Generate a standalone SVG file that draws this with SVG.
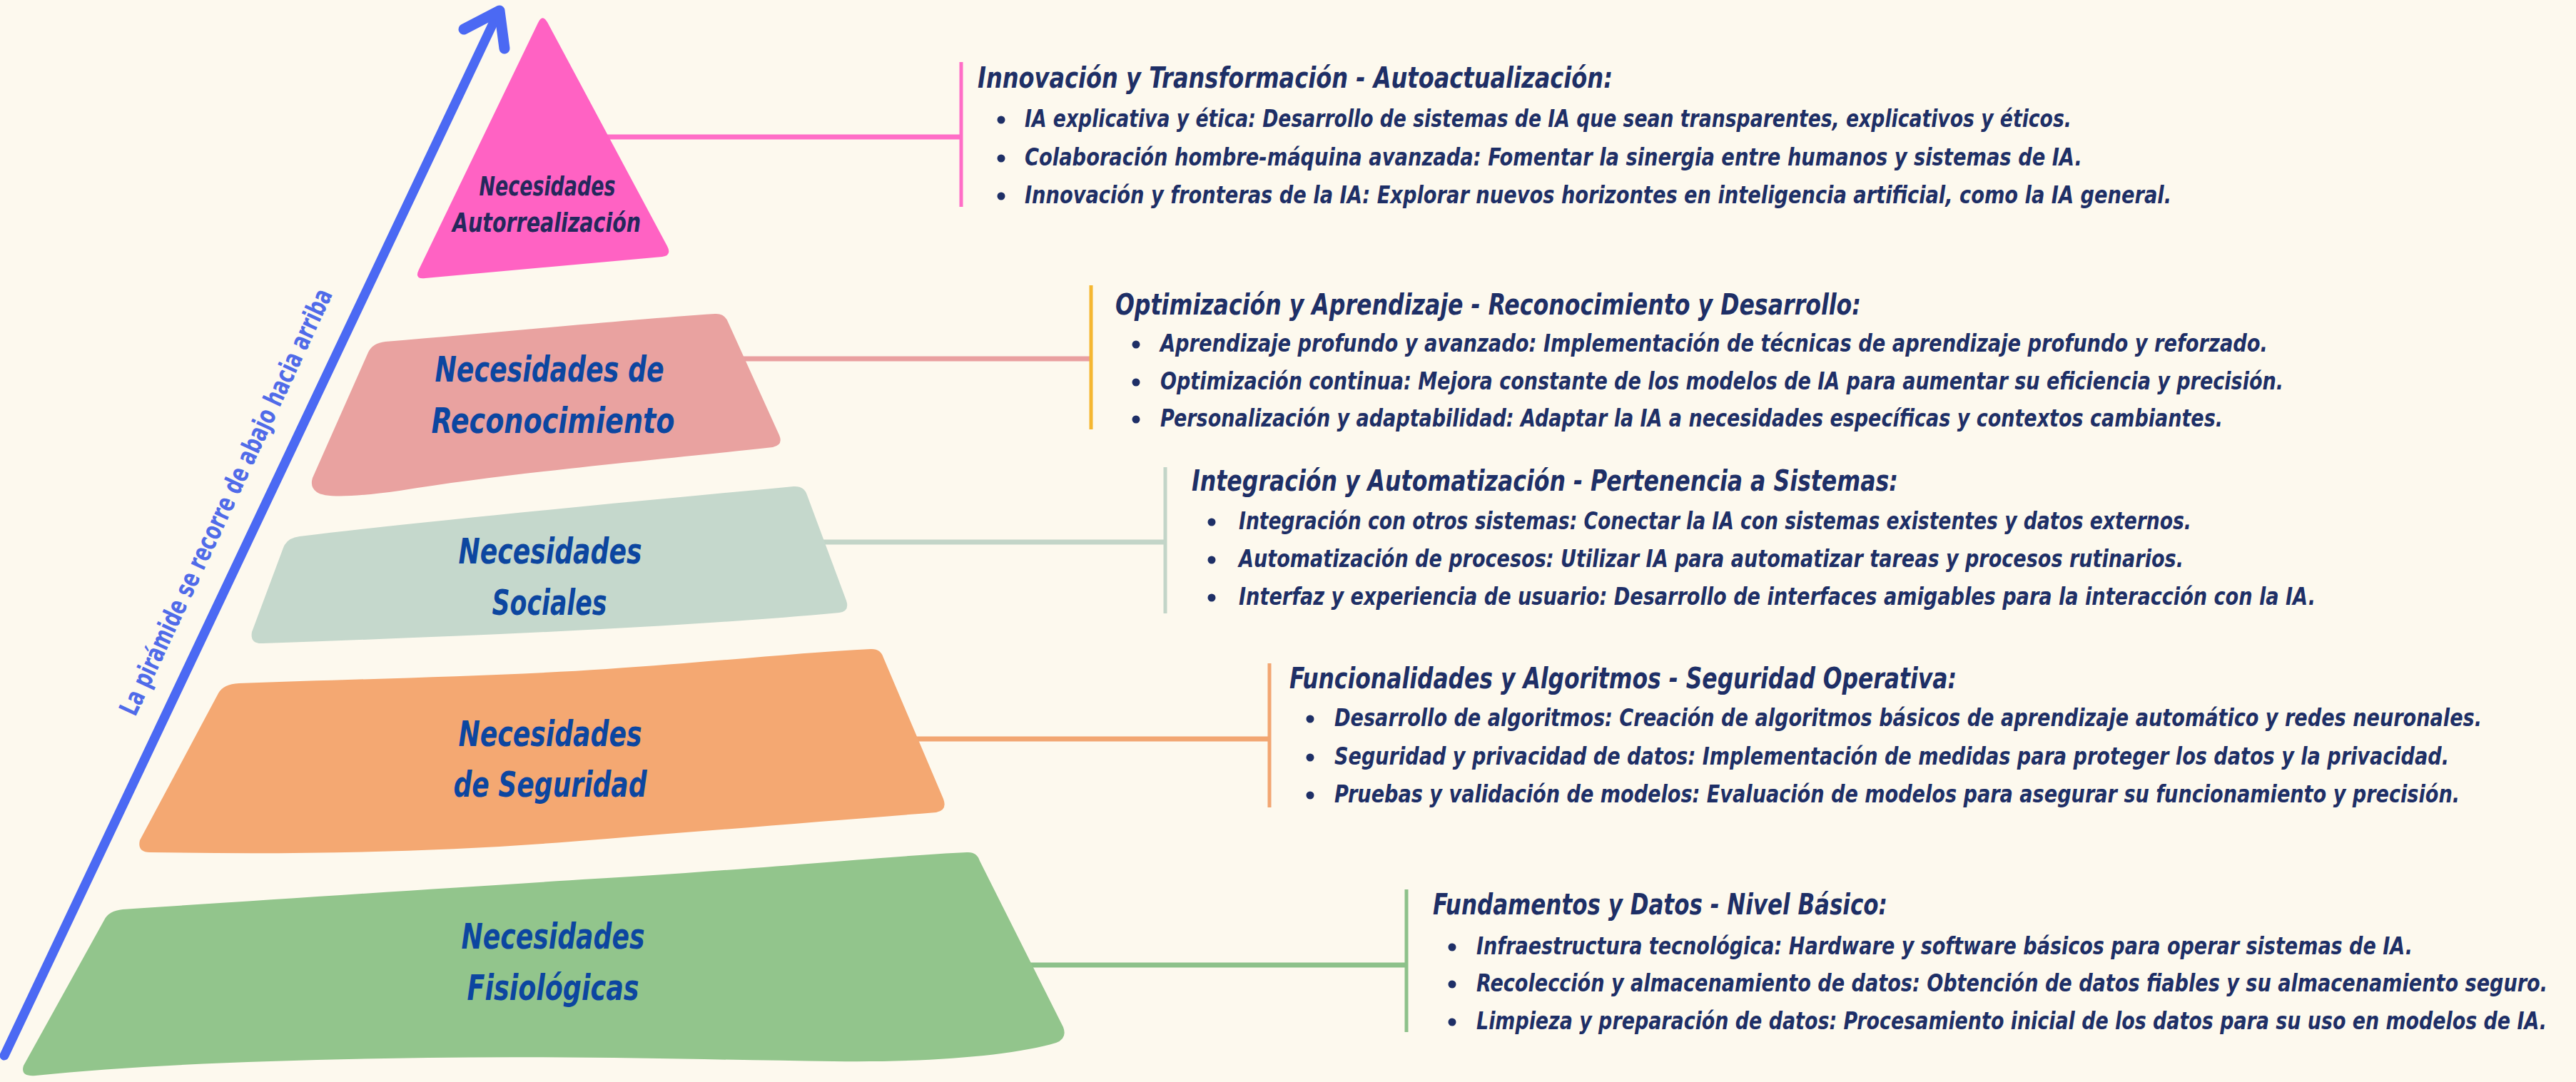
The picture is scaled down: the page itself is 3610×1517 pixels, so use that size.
<svg xmlns="http://www.w3.org/2000/svg" width="3610" height="1517" viewBox="0 0 3610 1517">
<style>
.bg{fill:#FDF9EE}
.lbl{font-family:"Liberation Sans Narrow","DejaVu Sans Condensed","Liberation Sans",sans-serif;font-weight:bold;font-style:italic;fill:#0C46A0;font-size:50px}
.lbl-top{fill:#25285C;font-size:38px}
.ttl{font-family:"Liberation Sans Narrow","DejaVu Sans Condensed","Liberation Sans",sans-serif;font-weight:bold;font-style:italic;fill:#1E2F66;font-size:40px}
.txt{font-family:"Liberation Sans Narrow","DejaVu Sans Condensed","Liberation Sans",sans-serif;font-weight:bold;font-style:italic;fill:#1E2F66;font-size:33px}
.dot{fill:#1E2F66}
.side{font-family:"Liberation Sans Narrow","DejaVu Sans Condensed","Liberation Sans",sans-serif;font-weight:bold;fill:#506BE9;font-size:37px}
.conn{fill:none;stroke-width:7}
.bar{fill:none;stroke-width:5}
</style>
<rect class="bg" x="0" y="0" width="3610" height="1517"/>

<g id="connectors">
  <path class="conn" stroke="#FF6EC7" d="M820 192 H1347"/>
  <path class="bar" stroke="#FF6EC7" d="M1347 87 V290"/>
  <path class="conn" stroke="#E9A0A0" d="M1040 503 H1529"/>
  <path class="bar" stroke="#F5B731" d="M1529 400 V602"/>
  <path class="conn" stroke="#C3D5C8" d="M1150 760 H1633"/>
  <path class="bar" stroke="#C3D5C8" d="M1633 655 V860"/>
  <path class="conn" stroke="#F2A672" d="M1280 1036 H1779"/>
  <path class="bar" stroke="#F2A672" d="M1779 930 V1132"/>
  <path class="conn" stroke="#8DC18A" d="M1430 1353 H1971"/>
  <path class="bar" stroke="#8DC18A" d="M1971 1247 V1447"/>
</g>

<g id="axis-arrow">
  <path d="M6 1480 L697 20" stroke="#4B69F3" stroke-width="13" stroke-linecap="round" fill="none"/>
  <path d="M650 41 L700 15 L707 68" stroke="#4B69F3" stroke-width="15" stroke-linecap="round" stroke-linejoin="round" fill="none"/>
  <text class="side" transform="translate(328,709) rotate(-65)" text-anchor="middle" textLength="655" lengthAdjust="spacingAndGlyphs">La pirámide se recorre de abajo hacia arriba</text>
</g>

<g id="node-autorrealizacion">
  <path fill="#FF62C3" d="M754 32 Q760 19 767 31 L935 345 Q942 358 928 360 L596 390 Q580 392 587 378 Z"/>
  <text class="lbl lbl-top" x="767" y="274" text-anchor="middle" textLength="191" lengthAdjust="spacingAndGlyphs">Necesidades</text>
  <text class="lbl lbl-top" x="766" y="325" text-anchor="middle" textLength="264" lengthAdjust="spacingAndGlyphs">Autorrealización</text>
</g>

<g id="node-reconocimiento">
  <path fill="#E9A2A0" d="M540 479 C700 466 880 448 1002 440 Q1015 439 1020 451 L1092 610 Q1098 624 1083 627 C950 642 720 662 560 688 Q460 702 444 690 Q434 683 438 670 L516 494 Q522 481 540 479 Z"/>
  <text class="lbl" x="770" y="535" text-anchor="middle" textLength="321" lengthAdjust="spacingAndGlyphs">Necesidades de</text>
  <text class="lbl" x="775" y="607" text-anchor="middle" textLength="341" lengthAdjust="spacingAndGlyphs">Reconocimiento</text>
</g>

<g id="node-sociales">
  <path fill="#C5D8CC" d="M420 752 C600 730 900 702 1112 682 Q1127 681 1131 694 L1186 842 Q1191 857 1176 859 C950 880 650 892 368 902 Q350 903 353 886 L397 768 Q402 754 420 752 Z"/>
  <text class="lbl" x="771" y="790" text-anchor="middle" textLength="257" lengthAdjust="spacingAndGlyphs">Necesidades</text>
  <text class="lbl" x="770" y="862" text-anchor="middle" textLength="161" lengthAdjust="spacingAndGlyphs">Sociales</text>
</g>

<g id="node-seguridad">
  <path fill="#F4A872" d="M335 958 C500 952 700 948 850 938 C1000 928 1120 915 1220 910 Q1234 909 1238 922 L1322 1120 Q1328 1136 1312 1139 C1150 1152 950 1168 800 1180 C600 1196 400 1198 210 1195 Q192 1195 196 1178 L306 972 Q313 959 335 958 Z"/>
  <text class="lbl" x="771" y="1046" text-anchor="middle" textLength="257" lengthAdjust="spacingAndGlyphs">Necesidades</text>
  <text class="lbl" x="771" y="1117" text-anchor="middle" textLength="271" lengthAdjust="spacingAndGlyphs">de Seguridad</text>
</g>

<g id="node-fisiologicas">
  <path fill="#92C58C" d="M172 1275 C400 1260 700 1240 900 1228 C1100 1215 1250 1200 1355 1195 Q1369 1194 1373 1207 L1490 1440 Q1496 1456 1480 1462 C1420 1480 1300 1490 1168 1488 C1000 1486 800 1480 600 1483 C400 1486 200 1492 50 1508 Q28 1510 33 1494 L146 1290 Q152 1277 172 1275 Z"/>
  <text class="lbl" x="775" y="1330" text-anchor="middle" textLength="257" lengthAdjust="spacingAndGlyphs">Necesidades</text>
  <text class="lbl" x="775" y="1402" text-anchor="middle" textLength="241" lengthAdjust="spacingAndGlyphs">Fisiológicas</text>
</g>

<g id="desc-autorrealizacion">
  <circle class="dot" cx="1403" cy="168" r="5.5"/>
  <circle class="dot" cx="1403" cy="222" r="5.5"/>
  <circle class="dot" cx="1403" cy="275" r="5.5"/>
  <g transform="scale(0.82 1)">
    <text class="ttl" x="1670.7" y="123" textLength="1085.4" lengthAdjust="spacingAndGlyphs">Innovación y Transformación - Autoactualización:</text>
    <text class="txt" x="1751.2" y="178" textLength="1789" lengthAdjust="spacingAndGlyphs">IA explicativa y ética: Desarrollo de sistemas de IA que sean transparentes, explicativos y éticos.</text>
    <text class="txt" x="1751.2" y="232" textLength="1807.3" lengthAdjust="spacingAndGlyphs">Colaboración hombre-máquina avanzada: Fomentar la sinergia entre humanos y sistemas de IA.</text>
    <text class="txt" x="1751.2" y="285" textLength="1959.8" lengthAdjust="spacingAndGlyphs">Innovación y fronteras de la IA: Explorar nuevos horizontes en inteligencia artificial, como la IA general.</text>
  </g>
</g>

<g id="desc-reconocimiento">
  <circle class="dot" cx="1592" cy="483" r="5.5"/>
  <circle class="dot" cx="1592" cy="536" r="5.5"/>
  <circle class="dot" cx="1592" cy="588" r="5.5"/>
  <g transform="scale(0.82 1)">
    <text class="ttl" x="1906.1" y="441" textLength="1274.4" lengthAdjust="spacingAndGlyphs">Optimización y Aprendizaje - Reconocimiento y Desarrollo:</text>
    <text class="txt" x="1982.9" y="493" textLength="1892.7" lengthAdjust="spacingAndGlyphs">Aprendizaje profundo y avanzado: Implementación de técnicas de aprendizaje profundo y reforzado.</text>
    <text class="txt" x="1982.9" y="546" textLength="1919.5" lengthAdjust="spacingAndGlyphs">Optimización continua: Mejora constante de los modelos de IA para aumentar su eficiencia y precisión.</text>
    <text class="txt" x="1982.9" y="598" textLength="1815.9" lengthAdjust="spacingAndGlyphs">Personalización y adaptabilidad: Adaptar la IA a necesidades específicas y contextos cambiantes.</text>
  </g>
</g>

<g id="desc-sociales">
  <circle class="dot" cx="1698" cy="732" r="5.5"/>
  <circle class="dot" cx="1698" cy="785" r="5.5"/>
  <circle class="dot" cx="1698" cy="838" r="5.5"/>
  <g transform="scale(0.82 1)">
    <text class="ttl" x="2036.6" y="688" textLength="1207.3" lengthAdjust="spacingAndGlyphs">Integración y Automatización - Pertenencia a Sistemas:</text>
    <text class="txt" x="2117.1" y="742" textLength="1628" lengthAdjust="spacingAndGlyphs">Integración con otros sistemas: Conectar la IA con sistemas existentes y datos externos.</text>
    <text class="txt" x="2117.1" y="795" textLength="1614.6" lengthAdjust="spacingAndGlyphs">Automatización de procesos: Utilizar IA para automatizar tareas y procesos rutinarios.</text>
    <text class="txt" x="2117.1" y="848" textLength="1840.2" lengthAdjust="spacingAndGlyphs">Interfaz y experiencia de usuario: Desarrollo de interfaces amigables para la interacción con la IA.</text>
  </g>
</g>

<g id="desc-seguridad">
  <circle class="dot" cx="1836" cy="1008" r="5.5"/>
  <circle class="dot" cx="1836" cy="1062" r="5.5"/>
  <circle class="dot" cx="1836" cy="1115" r="5.5"/>
  <g transform="scale(0.82 1)">
    <text class="ttl" x="2203.7" y="965" textLength="1140.2" lengthAdjust="spacingAndGlyphs">Funcionalidades y Algoritmos - Seguridad Operativa:</text>
    <text class="txt" x="2280.5" y="1018" textLength="1961" lengthAdjust="spacingAndGlyphs">Desarrollo de algoritmos: Creación de algoritmos básicos de aprendizaje automático y redes neuronales.</text>
    <text class="txt" x="2280.5" y="1072" textLength="1904.9" lengthAdjust="spacingAndGlyphs">Seguridad y privacidad de datos: Implementación de medidas para proteger los datos y la privacidad.</text>
    <text class="txt" x="2280.5" y="1125" textLength="1923.2" lengthAdjust="spacingAndGlyphs">Pruebas y validación de modelos: Evaluación de modelos para asegurar su funcionamiento y precisión.</text>
  </g>
</g>

<g id="desc-fisiologicas">
  <circle class="dot" cx="2035" cy="1328" r="5.5"/>
  <circle class="dot" cx="2035" cy="1380" r="5.5"/>
  <circle class="dot" cx="2035" cy="1433" r="5.5"/>
  <g transform="scale(0.82 1)">
    <text class="ttl" x="2448.8" y="1282" textLength="776.8" lengthAdjust="spacingAndGlyphs">Fundamentos y Datos - Nivel Básico:</text>
    <text class="txt" x="2523.2" y="1338" textLength="1600" lengthAdjust="spacingAndGlyphs">Infraestructura tecnológica: Hardware y software básicos para operar sistemas de IA.</text>
    <text class="txt" x="2523.2" y="1390" textLength="1830.5" lengthAdjust="spacingAndGlyphs">Recolección y almacenamiento de datos: Obtención de datos fiables y su almacenamiento seguro.</text>
    <text class="txt" x="2523.2" y="1443" textLength="1829.3" lengthAdjust="spacingAndGlyphs">Limpieza y preparación de datos: Procesamiento inicial de los datos para su uso en modelos de IA.</text>
  </g>
</g>
</svg>
